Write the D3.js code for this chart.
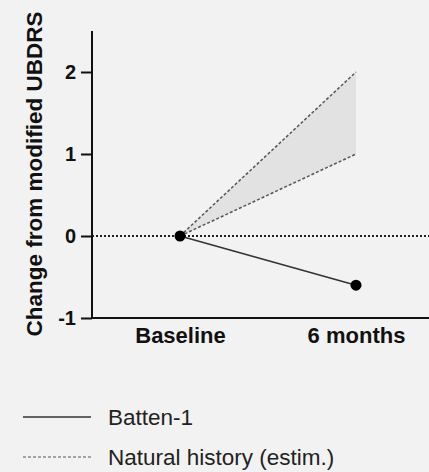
<!DOCTYPE html>
<html><head><meta charset="utf-8">
<script src="https://cdn.jsdelivr.net/npm/d3@7"></script>
<style>
html,body{margin:0;padding:0;background:#f2f2f2;}
svg{display:block;font-family:"Liberation Sans",Arial,sans-serif;}
</style></head>
<body><svg id="c" width="429" height="472"></svg>
<script>
const categories = ["Baseline", "6 months"];
const batten = [0, -0.6];
const naturalLow = [0, 1];
const naturalHigh = [0, 2];
const yTicks = [-1, 0, 1, 2];
const yTitle = "Change from modified UBDRS";
const legendLabels = ["Batten-1", "Natural history (estim.)"];

const svg = d3.select("#c");
const x = d3.scalePoint().domain(categories).range([180, 356]);
const y = d3.scaleLinear().domain([-1, 2.5]).range([318, 31]);
const ink = "#111";

// shaded band
const band = categories.map((c, i) => ({c, lo: naturalLow[i], hi: naturalHigh[i]}));
svg.append("path").datum(band)
  .attr("d", d3.area().x(d => x(d.c)).y0(d => y(d.lo)).y1(d => y(d.hi)))
  .attr("fill", "#e2e2e2");
[naturalLow, naturalHigh].forEach(s => {
  svg.append("path").datum(categories.map((c, i) => ({c, v: s[i]})))
    .attr("d", d3.line().x(d => x(d.c)).y(d => y(d.v)))
    .attr("fill", "none").attr("stroke", "#555").attr("stroke-width", 1.5)
    .attr("stroke-dasharray", "3,2");
});

// zero dotted line
svg.append("line").attr("x1", 92).attr("x2", 429).attr("y1", y(0)).attr("y2", y(0))
  .attr("stroke", "#222").attr("stroke-width", 2).attr("stroke-dasharray", "2,2");

// Y axis
const yAxis = svg.append("g").attr("transform", "translate(92,0)")
  .call(d3.axisLeft(y).tickValues(yTicks).tickSize(11).tickPadding(5).tickFormat(d => String(d)));
yAxis.select(".domain").attr("d", `M0,${y(2.5)}V${y(-1)}`).attr("stroke", ink).attr("stroke-width", 2);
yAxis.selectAll(".tick line").attr("stroke", ink).attr("stroke-width", 2);
yAxis.selectAll(".tick text").attr("fill", ink).attr("font-size", 20).attr("font-weight", "bold")
  .attr("font-family", "Liberation Sans, Arial, sans-serif");

// X axis
const xAxis = svg.append("g").attr("transform", `translate(0,${y(-1)})`)
  .call(d3.axisBottom(x).tickSize(0).tickPadding(9));
xAxis.select(".domain").attr("d", "M92,0H429").attr("stroke", ink).attr("stroke-width", 2);
xAxis.selectAll(".tick text").attr("fill", ink).attr("font-size", 22).attr("font-weight", "bold")
  .attr("font-family", "Liberation Sans, Arial, sans-serif");

// Y title
svg.append("text").attr("transform", `translate(42,${(10 + 338) / 2}) rotate(-90)`)
  .attr("text-anchor", "middle").attr("font-size", 22.5).attr("font-weight", "bold")
  .attr("fill", ink).text(yTitle);

// Batten-1 line and points
const bData = categories.map((c, i) => ({c, v: batten[i]}));
svg.append("path").datum(bData)
  .attr("d", d3.line().x(d => x(d.c)).y(d => y(d.v)))
  .attr("fill", "none").attr("stroke", "#333").attr("stroke-width", 1.6);
svg.selectAll("circle.b").data(bData).join("circle")
  .attr("cx", d => x(d.c)).attr("cy", d => y(d.v)).attr("r", 5.5).attr("fill", "#000");

// Legend
const leg = svg.append("g");
legendLabels.forEach((t, i) => {
  const ly = 417 + i * 40;
  leg.append("line").attr("x1", 23).attr("x2", 91).attr("y1", ly).attr("y2", ly)
    .attr("stroke", i === 0 ? "#333" : "#555").attr("stroke-width", i === 0 ? 1.6 : 1.2)
    .attr("stroke-dasharray", i === 0 ? null : "3,2");
  leg.append("text").attr("x", 108).attr("y", ly + 8).attr("font-size", 22.5)
    .attr("fill", "#222").text(t);
});
</script></body></html>
